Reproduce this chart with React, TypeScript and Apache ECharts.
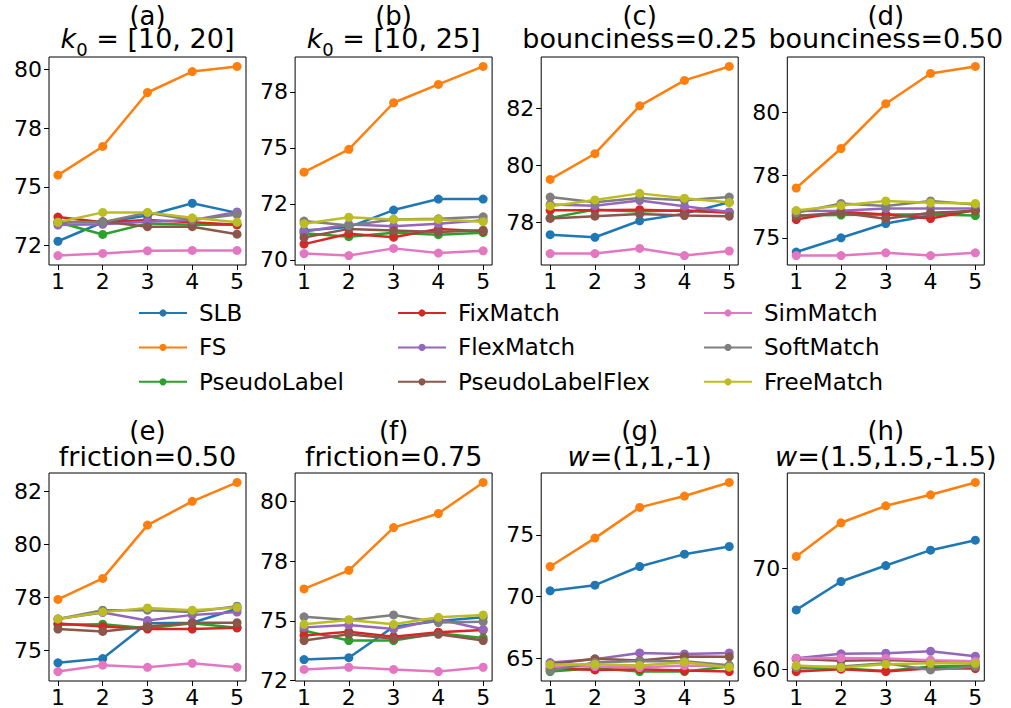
import React, { useEffect, useRef } from "react";
import * as echarts from "echarts";

// Methods, in plotting order, and their colours
const methods = ["SLB", "FS", "PseudoLabel", "FixMatch", "FlexMatch", "PseudoLabelFlex", "SimMatch", "SoftMatch", "FreeMatch"];
const colors = ["#1f77b4", "#ff7f0e", "#2ca02c", "#d62728", "#9467bd", "#8c564b", "#e377c2", "#7f7f7f", "#bcbd22"];
const steps = [1, 2, 3, 4, 5];

// Accuracy per method (rows follow `methods`), one array per setting
const k0_10_20 = [
  [72.68, 73.49, 73.78, 74.3, 73.89],
  [75.5, 76.72, 79.02, 79.91, 80.13],
  [73.49, 72.97, 73.44, 73.38, 73.38],
  [73.71, 73.49, 73.58, 73.49, 73.38],
  [73.37, 73.4, 73.51, 73.58, 73.93],
  [73.49, 73.52, 73.3, 73.3, 72.98],
  [72.07, 72.16, 72.27, 72.29, 72.29],
  [73.49, 73.49, 73.89, 73.58, 73.82],
  [73.49, 73.91, 73.91, 73.68, 73.49],
];
const k0_10_25 = [
  [71.31, 71.46, 72.22, 72.71, 72.71],
  [73.91, 74.93, 77.01, 77.83, 78.63],
  [71.18, 71.03, 71.21, 71.12, 71.21],
  [70.7, 71.16, 71.01, 71.38, 71.28],
  [71.25, 71.58, 71.5, 71.61, 71.76],
  [71.0, 71.38, 71.31, 71.24, 71.32],
  [70.28, 70.19, 70.51, 70.3, 70.4],
  [71.73, 71.53, 71.8, 71.83, 71.92],
  [71.61, 71.9, 71.8, 71.8, 71.7],
];
const bounce025 = [
  [77.56, 77.47, 78.05, 78.3, 78.7],
  [79.5, 80.4, 82.08, 82.97, 83.46],
  [78.15, 78.44, 78.37, 78.42, 78.33],
  [78.42, 78.42, 78.44, 78.39, 78.35],
  [78.62, 78.58, 78.76, 78.56, 78.36],
  [78.13, 78.21, 78.29, 78.23, 78.21],
  [76.9, 76.9, 77.08, 76.83, 76.99],
  [78.88, 78.7, 78.85, 78.77, 78.88],
  [78.56, 78.78, 79.01, 78.84, 78.69],
];
const bounce050 = [
  [74.43, 75.0, 75.57, 75.89, 76.11],
  [76.99, 78.57, 80.36, 81.57, 81.85],
  [75.89, 75.91, 75.93, 75.93, 75.89],
  [75.73, 76.04, 75.93, 75.77, 76.11],
  [76.07, 76.08, 76.17, 76.17, 76.17],
  [75.87, 76.0, 75.76, 76.0, 76.07],
  [74.29, 74.29, 74.4, 74.29, 74.4],
  [76.0, 76.37, 76.27, 76.47, 76.33],
  [76.09, 76.29, 76.47, 76.4, 76.37],
];
const friction050 = [
  [74.42, 74.62, 76.29, 76.31, 76.97],
  [77.41, 78.4, 80.91, 82.03, 82.92],
  [76.21, 76.24, 76.05, 76.29, 76.07],
  [76.27, 76.13, 76.01, 76.01, 76.07],
  [76.49, 76.79, 76.42, 76.68, 76.81],
  [76.01, 75.9, 76.13, 76.31, 76.31],
  [74.01, 74.31, 74.21, 74.4, 74.21],
  [76.49, 76.9, 76.9, 76.82, 77.09],
  [76.49, 76.81, 77.01, 76.9, 77.03],
];
const friction075 = [
  [73.38, 73.46, 74.76, 75.0, 75.15],
  [76.34, 77.12, 78.91, 79.5, 80.8],
  [74.59, 74.18, 74.18, 74.48, 74.29],
  [74.39, 74.55, 74.34, 74.53, 74.62],
  [74.73, 74.83, 74.66, 75.07, 74.65],
  [74.18, 74.44, 74.25, 74.44, 74.18],
  [72.97, 73.06, 72.97, 72.88, 73.06],
  [75.17, 75.04, 75.25, 74.93, 74.97],
  [74.86, 75.04, 74.86, 75.15, 75.25],
];
const w1 = [
  [70.46, 70.92, 72.43, 73.43, 74.05],
  [72.43, 74.73, 77.22, 78.14, 79.24],
  [63.92, 64.19, 63.92, 63.92, 64.32],
  [64.19, 64.05, 64.11, 64.0, 63.92],
  [64.65, 64.92, 65.43, 65.35, 65.43],
  [64.51, 64.95, 64.81, 65.14, 65.11],
  [64.32, 64.32, 64.24, 64.41, 64.32],
  [64.0, 64.65, 64.78, 64.76, 64.43],
  [64.49, 64.51, 64.41, 64.68, 64.27],
];
const w15 = [
  [65.87, 68.68, 70.26, 71.78, 72.77],
  [71.16, 74.49, 76.17, 77.26, 78.48],
  [60.1, 60.1, 59.83, 60.26, 60.36],
  [59.77, 60.0, 59.77, 60.1, 60.07],
  [61.09, 61.52, 61.58, 61.78, 61.29],
  [61.02, 60.83, 60.92, 60.76, 60.59],
  [61.09, 61.12, 61.06, 60.89, 60.79],
  [60.17, 60.26, 60.59, 59.93, 60.26],
  [60.36, 60.17, 60.5, 60.59, 60.59],
];

// Y tick positions and their printed labels
const ticksA = [72.5, 75, 77.5, 80];
const labelsA = ["72", "75", "78", "80"];
const ticksB = [70, 72.5, 75, 77.5];
const labelsB = ["70", "72", "75", "78"];
const ticksC = [78, 80, 82];
const labelsC = ["78", "80", "82"];
const ticksD = [75, 77.5, 80];
const labelsD = ["75", "78", "80"];
const ticksE = [75, 77.5, 80, 82.5];
const labelsE = ["75", "78", "80", "82"];
const ticksF = [72.5, 75, 77.5, 80];
const labelsF = ["72", "75", "78", "80"];
const ticksG = [65, 70, 75];
const labelsG = ["65", "70", "75"];
const ticksH = [60, 70];
const labelsH = ["60", "70"];

const letters = ["(a)", "(b)", "(c)", "(d)", "(e)", "(f)", "(g)", "(h)"];
const subtitles = [
  "{it|k}{sub|0}{n| = [10, 20]}",
  "{it|k}{sub|0}{n| = [10, 25]}",
  "{n|bounciness=0.25}",
  "{n|bounciness=0.50}",
  "{n|friction=0.50}",
  "{n|friction=0.75}",
  "{it|w}{n|=(1,1,-1)}",
  "{it|w}{n|=(1.5,1.5,-1.5)}",
];

const panelData = [k0_10_20, k0_10_25, bounce025, bounce050, friction050, friction075, w1, w15];
const panelTicks = [ticksA, ticksB, ticksC, ticksD, ticksE, ticksF, ticksG, ticksH];
const panelLabels = [labelsA, labelsB, labelsC, labelsD, labelsE, labelsF, labelsG, labelsH];

const FONT = "'DejaVu Sans', sans-serif";
const GRID_LEFT = 49;
const GRID_DX = 246.1;
const GRID_W = 197;
const GRID_H = 208;
const GRID_TOPS = [57, 473];
const LETTER_Y = [15.5, 431];
const SUBTITLE_Y = [38, 456];

function buildOption() {
  const grid: any[] = [];
  const xAxis: any[] = [];
  const yAxis: any[] = [];
  const series: any[] = [];
  const graphic: any[] = [];

  panelData.forEach((rows, i) => {
    const col = i % 4;
    const row = Math.floor(i / 4);
    const left = GRID_LEFT + GRID_DX * col;
    const top = GRID_TOPS[row];
    grid.push({
      left,
      top,
      width: GRID_W,
      height: GRID_H,
      show: true,
      borderColor: "#000",
      borderWidth: 1,
      backgroundColor: "transparent",
    });

    const all = rows.flat();
    const lo = Math.min(...all);
    const hi = Math.max(...all);
    const pad = (hi - lo) * 0.05;
    const ticks = panelTicks[i];
    const labels = panelLabels[i];

    xAxis.push({
      type: "value",
      gridIndex: i,
      min: 0.8,
      max: 5.2,
      axisLine: { show: false },
      splitLine: { show: false },
      axisTick: { show: true, length: 5, lineStyle: { color: "#000", width: 1 }, customValues: steps },
      axisLabel: {
        customValues: steps,
        color: "#000",
        fontSize: 22,
        fontFamily: FONT,
        margin: 5,
        formatter: (v: number) => String(Math.round(v)),
      },
    });
    yAxis.push({
      type: "value",
      gridIndex: i,
      min: lo - pad,
      max: hi + pad,
      axisLine: { show: false },
      splitLine: { show: false },
      axisTick: { show: true, length: 5, lineStyle: { color: "#000", width: 1 }, customValues: ticks },
      axisLabel: {
        customValues: ticks,
        color: "#000",
        fontSize: 22,
        fontFamily: FONT,
        margin: 7,
        formatter: (v: number) => {
          const k = ticks.findIndex((t) => Math.abs(t - v) < 1e-6);
          return k >= 0 ? labels[k] : "";
        },
      },
    });

    rows.forEach((vals, m) => {
      series.push({
        type: "line",
        name: methods[m],
        xAxisIndex: i,
        yAxisIndex: i,
        data: steps.map((s, k) => [s, vals[k]]),
        symbol: "circle",
        symbolSize: 9,
        color: colors[m],
        lineStyle: { width: 2.5, color: colors[m] },
        itemStyle: { color: colors[m] },
        emphasis: { disabled: true },
      });
    });

    const cx = left + GRID_W / 2;
    graphic.push({
      type: "text",
      x: cx,
      y: LETTER_Y[row],
      style: {
        text: letters[i],
        font: `26px ${FONT}`,
        fill: "#000",
        align: "center",
        verticalAlign: "middle",
      },
    });
    graphic.push({
      type: "text",
      x: cx,
      y: SUBTITLE_Y[row],
      style: {
        text: subtitles[i],
        fill: "#000",
        align: "center",
        verticalAlign: "middle",
        rich: {
          n: { fontSize: 27, fontFamily: FONT, fill: "#000", lineHeight: 32 },
          it: { fontSize: 27, fontFamily: FONT, fontStyle: "italic", fill: "#000", lineHeight: 32 },
          sub: { fontSize: 18, fontFamily: FONT, fill: "#000", lineHeight: 40, verticalAlign: "bottom" },
        },
      },
    });
  });

  const legendLefts = [133, 392, 698];
  const legend = legendLefts.map((lx, c) => ({
    orient: "vertical",
    left: lx,
    top: 295,
    data: methods.slice(c * 3, c * 3 + 3),
    itemWidth: 48,
    itemHeight: 9,
    itemGap: 8.4,
    selectedMode: false,
    textStyle: {
      fontSize: 23,
      fontFamily: FONT,
      color: "#000",
      lineHeight: 26,
      padding: [0, 0, 0, 7],
    },
  }));

  return {
    animation: false,
    backgroundColor: "#fff",
    grid,
    xAxis,
    yAxis,
    series,
    legend,
    graphic,
  };
}

export default function App() {
  const ref = useRef<HTMLDivElement>(null);
  useEffect(() => {
    if (!ref.current) return;
    const chart = echarts.init(ref.current, undefined, { renderer: "svg" });
    chart.setOption(buildOption() as any);
    return () => chart.dispose();
  }, []);
  return (
    <div
      ref={ref}
      style={{ position: "absolute", left: 0, top: 0, width: 1011, height: 708 }}
    />
  );
}
